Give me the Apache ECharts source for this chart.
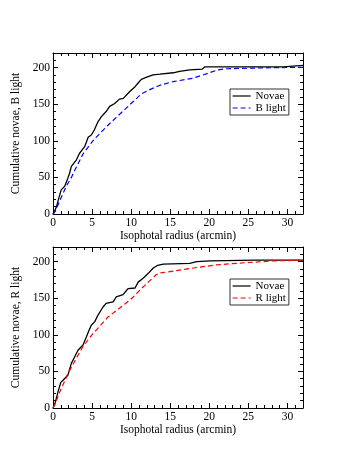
<!DOCTYPE html>
<html>
<head>
<meta charset="utf-8">
<script src="https://cdn.jsdelivr.net/npm/echarts@6/dist/echarts.min.js"></script>
<style>
  html, body { margin: 0; padding: 0; background: #fff; }
  #chart { width: 357px; height: 462px; }
</style>
</head>
<body>
<div id="chart"></div>
<script>
// top panel: novae vs B light
var novaeB_x = [0, 0.2, 0.45, 0.7, 1.05, 1.5, 1.9, 2.1, 2.35, 3.0, 3.4, 4.05, 4.5, 4.9, 5.3, 5.75, 6.2, 6.8, 7.25, 7.9, 8.5, 9.0, 9.8, 10.5, 10.9, 11.3, 12.0, 12.8, 13.7, 15.4, 16.2, 17.5, 19.1, 19.4, 29.5, 29.7, 32];
var novaeB_y = [0, 4, 10, 20, 33, 38, 49, 55, 65, 74, 83, 92, 105, 108, 115, 126, 133, 140, 147, 151, 157, 158, 167, 174, 179, 184, 187, 190, 191, 193, 195, 197, 198, 201, 201, 203, 203];
var lightB_x = [0, 0.3, 0.86, 1.7, 2.35, 2.8, 3.84, 5.1, 6.0, 7.0, 8.1, 9.2, 10.2, 11.3, 12.4, 13.7, 15.4, 17.9, 19.2, 21.1, 22.2, 26, 32];
var lightB_y = [0, 4, 18, 38, 50, 60, 82, 100, 110, 121, 132, 143, 153, 164, 170, 176, 181, 185.5, 190, 197, 198.5, 199.5, 200.5];

// bottom panel: novae vs R light
var novaeR_x = [0, 0.3, 0.64, 1.0, 1.28, 1.92, 2.1, 2.35, 2.78, 3.2, 3.84, 4.27, 4.6, 4.9, 5.35, 5.76, 6.4, 6.8, 7.7, 8.1, 8.96, 9.6, 10.5, 10.9, 11.5, 12.2, 12.8, 13.4, 14.1, 17.5, 18.4, 20.1, 26, 32];
var novaeR_y = [0, 8, 22, 35, 38, 45, 52, 61, 70, 79, 86, 97, 106, 113, 118, 127, 138, 143, 145, 152, 155, 163, 164, 172, 177, 184, 191, 195, 196.5, 197.5, 200, 201, 202, 202];
var lightR_x = [0, 0.3, 0.86, 1.92, 2.78, 3.84, 4.9, 6.0, 7.0, 8.1, 9.2, 10.2, 11.3, 12.4, 13.2, 13.7, 15.4, 18.4, 20.9, 23.9, 28.2, 32];
var lightR_y = [0, 6, 22, 47, 64, 84, 99, 112, 124, 133, 142, 151, 163, 174, 182, 184.5, 187, 192, 195.5, 198, 201, 202];

var font = 'Liberation Serif';

function pairs(xs, ys) {
    var out = [];
    for (var i = 0; i < xs.length; i++) out.push([xs[i], ys[i]]);
    return out;
}

function tick(len) {
    return {inside: true, length: len, lineStyle: {color: '#000', width: 1}};
}

function xAxes(g) {
    var base = {type: 'value', gridIndex: g, min: 0, max: 32, splitLine: {show: false}};
    return [
        Object.assign({}, base, {
            position: 'bottom', interval: 5,
            axisLine: {onZero: false, lineStyle: {color: '#000', width: 1}},
            axisTick: tick(5),
            axisLabel: {margin: 3, color: '#000', fontFamily: font, fontSize: 11.5, showMaxLabel: false},
            name: 'Isophotal radius (arcmin)', nameLocation: 'middle', nameGap: 16,
            nameTextStyle: {color: '#000', fontFamily: font, fontSize: 11.5}
        }),
        Object.assign({}, base, {position: 'bottom', interval: 1, axisLine: {show: false, onZero: false}, axisTick: tick(3), axisLabel: {show: false}}),
        Object.assign({}, base, {position: 'top', interval: 5, axisLine: {onZero: false, lineStyle: {color: '#000', width: 1}}, axisTick: tick(5), axisLabel: {show: false}}),
        Object.assign({}, base, {position: 'top', interval: 1, axisLine: {show: false, onZero: false}, axisTick: tick(3), axisLabel: {show: false}})
    ];
}

function yAxes(g, title) {
    var base = {type: 'value', gridIndex: g, min: 0, max: 220, splitLine: {show: false}};
    return [
        Object.assign({}, base, {
            position: 'left', interval: 50,
            axisLine: {show: true, onZero: false, lineStyle: {color: '#000', width: 1}},
            axisTick: tick(5),
            axisLabel: {margin: 3, color: '#000', fontFamily: font, fontSize: 11.5, showMaxLabel: false},
            name: title, nameLocation: 'middle', nameGap: 25,
            nameTextStyle: {color: '#000', fontFamily: font, fontSize: 11.5}
        }),
        Object.assign({}, base, {position: 'left', interval: 10, axisLine: {show: false, onZero: false}, axisTick: tick(3), axisLabel: {show: false}}),
        Object.assign({}, base, {position: 'right', interval: 50, axisLine: {show: true, onZero: false, lineStyle: {color: '#000', width: 1}}, axisTick: tick(5), axisLabel: {show: false}}),
        Object.assign({}, base, {position: 'right', interval: 10, axisLine: {show: false, onZero: false}, axisTick: tick(3), axisLabel: {show: false}})
    ];
}

function legendAt(top, names) {
    return {
        orient: 'vertical', left: 230, top: top, data: names,
        backgroundColor: '#fff', borderColor: '#333', borderWidth: 1, borderRadius: 0,
        padding: [1, 3, 1, 2], itemGap: 0, itemWidth: 18, itemHeight: 10,
        itemStyle: {opacity: 0},
        lineStyle: {width: 1.2},
        textStyle: {color: '#000', fontFamily: font, fontSize: 11, lineHeight: 12},
        selectedMode: false
    };
}

var chart = echarts.init(document.getElementById('chart'), null, {renderer: 'canvas'});
chart.setOption({
    animation: false,
    backgroundColor: '#fff',
    grid: [
        {left: 53, top: 53, width: 250, height: 161},
        {left: 53, top: 247, width: 250, height: 161}
    ],
    xAxis: xAxes(0).concat(xAxes(1)),
    yAxis: yAxes(0, 'Cumulative novae, B light').concat(yAxes(1, 'Cumulative novae, R light')),
    legend: [
        legendAt(89, ['Novae', 'B light']),
        legendAt(279, ['Novae', 'R light'])
    ],
    series: [
        {name: 'Novae', type: 'line', xAxisIndex: 0, yAxisIndex: 0, data: pairs(novaeB_x, novaeB_y),
         symbol: 'none', lineStyle: {color: '#000', width: 1.3}, itemStyle: {color: '#000'}},
        {name: 'B light', type: 'line', xAxisIndex: 0, yAxisIndex: 0, data: pairs(lightB_x, lightB_y),
         symbol: 'none', lineStyle: {color: '#0000ff', width: 1.2, type: [5, 3]}, itemStyle: {color: '#0000ff'}},
        {name: 'Novae', type: 'line', xAxisIndex: 4, yAxisIndex: 4, data: pairs(novaeR_x, novaeR_y),
         symbol: 'none', lineStyle: {color: '#000', width: 1.3}, itemStyle: {color: '#000'}},
        {name: 'R light', type: 'line', xAxisIndex: 4, yAxisIndex: 4, data: pairs(lightR_x, lightR_y),
         symbol: 'none', lineStyle: {color: '#ff0000', width: 1.2, type: [5, 3]}, itemStyle: {color: '#ff0000'}}
    ]
});
</script>
</body>
</html>
